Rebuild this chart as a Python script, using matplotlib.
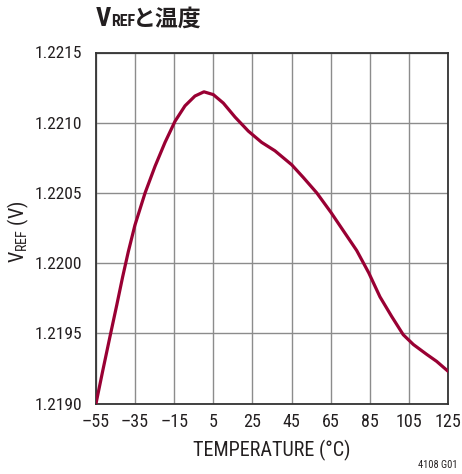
import matplotlib
matplotlib.use("Agg")
import matplotlib.pyplot as plt
from matplotlib import font_manager

# 基準電圧の温度特性 (曲線から読み取った値)
temp_c = [-55, -51.6, -47.8, -44.4, -41.4, -38.5, -35.1, -29.9, -24.8, -19.7,
          -14.6, -9.5, -4.4, 0.2, 5.0, 10.1, 16.1, 22.9, 29.7, 36.5, 45.1,
          51.0, 57.9, 65.2, 71.5, 78.3, 84.5, 90.2, 96.2, 102.1, 107.3,
          114.1, 119.2, 125]
vref = [1.21900, 1.21923, 1.21948, 1.21970, 1.21990, 1.22008, 1.22027,
        1.22050, 1.22069, 1.22086, 1.22101, 1.22112, 1.22119, 1.22122,
        1.22120, 1.22114, 1.22104, 1.22094, 1.22086, 1.22080, 1.22070,
        1.22061, 1.22050, 1.22036, 1.22023, 1.22009, 1.21993, 1.21976,
        1.21962, 1.21949, 1.21942, 1.21935, 1.21930, 1.21923]

x_ticks = [-55, -35, -15, 5, 25, 45, 65, 85, 105, 125]
x_labels = ["\u201355", "\u201335", "\u201315", "5", "25", "45", "65", "85", "105", "125"]
y_ticks = [1.2190, 1.2195, 1.2200, 1.2205, 1.2210, 1.2215]
y_labels = ["1.2190", "1.2195", "1.2200", "1.2205", "1.2210", "1.2215"]

# 細身のフォントを選ぶ
names = {f.name for f in font_manager.fontManager.ttflist}
cond = "Liberation Sans"
for cand in ["Roboto Condensed", "Liberation Sans Narrow", "PT Sans Narrow",
             "Archivo Narrow", "IBM Plex Sans Condensed", "Open Sans Condensed"]:
    if cand in names:
        cond = cand
        break
plt.rcParams["font.family"] = [cond, "DejaVu Sans"]
plt.rcParams["mathtext.fontset"] = "custom"
plt.rcParams["mathtext.rm"] = cond

ink = "#231f20"

fig = plt.figure(figsize=(4.62, 4.74), dpi=100)
ax = fig.add_axes([96 / 462, 1 - 403.5 / 474, 352 / 462, 351 / 474])

ax.plot(temp_c, vref, color="#990033", linewidth=2.3, solid_joinstyle="round", zorder=3)

ax.set_xlim(-55, 125)
ax.set_ylim(1.2190, 1.2215)
ax.set_xticks(x_ticks)
ax.set_xticklabels(x_labels, fontsize=13)
ax.set_yticks(y_ticks)
ax.set_yticklabels(y_labels, fontsize=12.5)
ax.tick_params(axis="x", length=0, pad=7, colors=ink)
ax.tick_params(axis="y", length=0, pad=10, colors=ink)
ax.grid(True, color="#8c8c8c", linewidth=1.0)
for s in ax.spines.values():
    s.set_color("#333333")
    s.set_linewidth(1.3)

ax.set_xlabel("TEMPERATURE (\u00b0C)", fontsize=14.5, color=ink)
ax.set_ylabel(r"V$_{\mathregular{REF}}$ (V)", fontsize=14.5, color=ink)
ax.xaxis.set_label_coords(272 / 462, 1 - 450 / 474, transform=fig.transFigure)
ax.yaxis.set_label_coords(18 / 462, 1 - 232 / 474, transform=fig.transFigure)
ax.xaxis.label.set_va("center")
ax.yaxis.label.set_va("center")

# タイトル
fig.text(96 / 462, 1 - 26 / 474, "V", fontsize=19, fontweight="bold", color=ink,
         ha="left", va="baseline")
fig.text(111 / 462, 1 - 26 / 474, "REF", fontsize=11.5, fontweight="bold", color=ink,
         ha="left", va="baseline")
fig.text(133 / 462, 1 - 26 / 474, "と温度", fontsize=16.5, fontweight="bold", color=ink,
         ha="left", va="baseline", family=["Noto Sans CJK JP", "DejaVu Sans"])
fig.text(458 / 462, 1 - 465 / 474, "4108 G01", fontsize=7.5, color=ink,
         ha="right", va="center")

fig.savefig("out.png", dpi=100)
